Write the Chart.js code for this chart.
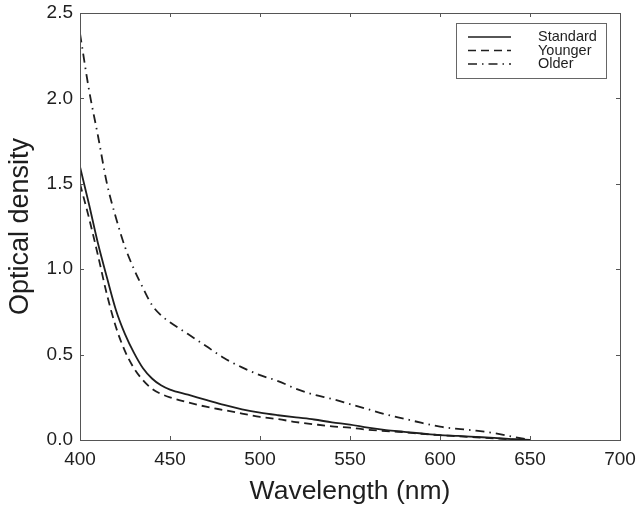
<!DOCTYPE html>
<html>
<head>
<meta charset="utf-8">
<script src="https://cdn.jsdelivr.net/npm/chart.js@4/dist/chart.umd.min.js"></script>
<style>
html,body{margin:0;padding:0;background:#fff;}
#wrap{width:641px;height:512px;position:relative;}
</style>
</head>
<body>
<div id="wrap"><canvas id="c" width="641" height="512"></canvas></div>
<script>
const wavelengths = [400,405,410,415,420,425,430,435,440,445,450,460,470,480,490,500,510,520,530,540,550,560,570,580,590,600,610,620,630,640,650];
const standard = [1.60,1.38,1.15,0.95,0.76,0.62,0.51,0.42,0.36,0.32,0.295,0.265,0.235,0.205,0.18,0.16,0.145,0.132,0.12,0.103,0.09,0.072,0.058,0.048,0.038,0.029,0.024,0.018,0.012,0.005,0.0];
const younger = [1.50,1.30,1.08,0.85,0.66,0.52,0.42,0.35,0.30,0.27,0.25,0.22,0.195,0.175,0.155,0.135,0.122,0.105,0.092,0.08,0.072,0.06,0.052,0.045,0.036,0.028,0.022,0.016,0.01,0.004,0.0];
const older = [2.38,2.05,1.78,1.50,1.30,1.13,1.00,0.89,0.79,0.73,0.69,0.62,0.55,0.48,0.425,0.38,0.345,0.30,0.265,0.24,0.21,0.18,0.15,0.125,0.10,0.078,0.065,0.055,0.04,0.02,0.0];
const seriesNames = ["Standard","Younger","Older"];
const xTicks = [400,450,500,550,600,650,700];
const yTicks = [0,0.5,1.0,1.5,2.0,2.5];

const FONT = "'Liberation Sans', Arial, Helvetica, sans-serif";
const INK = "#1e1e1e";
const AXIS = "#555";

function pts(arr){ return wavelengths.map((w,i)=>({x:w,y:arr[i]})); }

const frame = {
  id:'frame',
  afterDatasetsDraw(chart){
    const {ctx, chartArea:a, scales:{x,y}} = chart;
    ctx.save();
    ctx.strokeStyle = AXIS;
    ctx.lineWidth = 1;
    ctx.strokeRect(Math.round(a.left)+0.5, Math.round(a.top)+0.5, Math.round(a.right-a.left), Math.round(a.bottom-a.top));
    const L = 4;
    ctx.beginPath();
    xTicks.forEach(v=>{
      const px = Math.round(x.getPixelForValue(v))+0.5;
      ctx.moveTo(px,a.bottom); ctx.lineTo(px,a.bottom-L);
      ctx.moveTo(px,a.top); ctx.lineTo(px,a.top+L);
    });
    yTicks.forEach(v=>{
      const py = Math.round(y.getPixelForValue(v))+0.5;
      ctx.moveTo(a.left,py); ctx.lineTo(a.left+L,py);
      ctx.moveTo(a.right,py); ctx.lineTo(a.right-L,py);
    });
    ctx.stroke();
    // legend
    const bx=456.5, by=23.5, bw=150, bh=55;
    ctx.fillStyle="#fff";
    ctx.fillRect(bx,by,bw,bh);
    ctx.strokeStyle="#666";
    ctx.strokeRect(bx,by,bw,bh);
    chart.data.datasets.forEach((ds,i)=>{
      const ly = by + 13.5 + i*13.5;
      ctx.strokeStyle = INK;
      ctx.lineWidth = 1.6;
      ctx.setLineDash(ds.borderDash||[]);
      ctx.beginPath(); ctx.moveTo(468,ly); ctx.lineTo(511,ly); ctx.stroke();
      ctx.setLineDash([]);
      ctx.fillStyle = INK;
      ctx.font = "14.5px "+FONT;
      ctx.textBaseline = "middle";
      ctx.textAlign = "left";
      ctx.fillText(ds.label, 538, ly);
    });
    ctx.restore();
  }
};

new Chart(document.getElementById('c'), {
  type:'line',
  data:{
    datasets:[
      {label:seriesNames[0], data:pts(standard), borderColor:INK, borderWidth:1.8, pointRadius:0, cubicInterpolationMode:'monotone', fill:false},
      {label:seriesNames[1], data:pts(younger), borderColor:INK, borderWidth:1.8, borderDash:[8,5], pointRadius:0, cubicInterpolationMode:'monotone', fill:false},
      {label:seriesNames[2], data:pts(older), borderColor:INK, borderWidth:1.8, borderDash:[9,5,1.5,5], pointRadius:0, cubicInterpolationMode:'monotone', fill:false}
    ]
  },
  options:{
    responsive:false,
    animation:false,
    devicePixelRatio:1,
    layout:{padding:{top:13,right:21,left:0,bottom:0}},
    plugins:{legend:{display:false}, tooltip:{enabled:false}},
    scales:{
      x:{type:'linear', min:400, max:700,
        afterBuildTicks(s){ s.ticks = xTicks.map(v=>({value:v})); },
        afterFit(s){ s.height = 72; s.paddingLeft = 0; s.paddingRight = 0; },
        grid:{display:false, drawTicks:false},
        border:{display:false},
        ticks:{color:INK, font:{family:FONT,size:19}, padding:8, maxRotation:0},
        title:{display:true, text:'Wavelength (nm)', color:INK, font:{family:FONT,size:26.5}, padding:{top:0,bottom:4}}
      },
      y:{type:'linear', min:0, max:2.5,
        afterBuildTicks(s){ s.ticks = yTicks.map(v=>({value:v})); },
        afterFit(s){ s.width = 80; s.paddingTop = 0; s.paddingBottom = 0; },
        grid:{display:false, drawTicks:false},
        border:{display:false},
        ticks:{color:INK, font:{family:FONT,size:19}, padding:7, callback:v=>Number(v).toFixed(1)},
        title:{display:true, text:'Optical density', color:INK, font:{family:FONT,size:27}, padding:{top:4,bottom:0}}
      }
    }
  },
  plugins:[frame]
});
</script>
</body>
</html>
